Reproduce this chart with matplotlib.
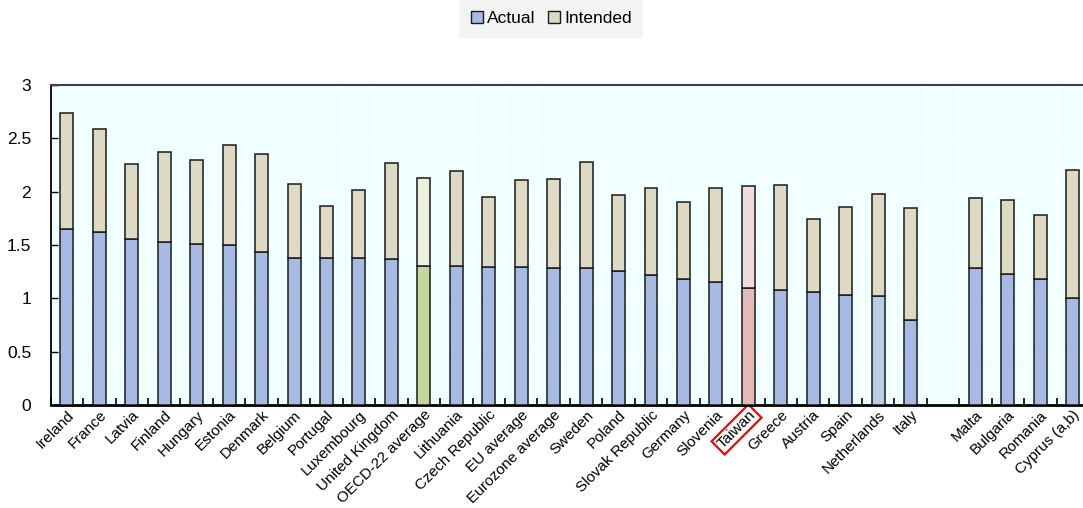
import matplotlib.pyplot as plt
import matplotlib.patches as mpatches
import matplotlib.ticker as mticker
import numpy as np

plt.rcParams['font.family'] = ['Liberation Sans', 'DejaVu Sans']

# data ("" = empty slot between groups)
countries = ["Ireland", "France", "Latvia", "Finland", "Hungary", "Estonia", "Denmark",
             "Belgium", "Portugal", "Luxembourg", "United Kingdom", "OECD-22 average",
             "Lithuania", "Czech Republic", "EU average", "Eurozone average", "Sweden",
             "Poland", "Slovak Republic", "Germany", "Slovenia", "Taiwan", "Greece",
             "Austria", "Spain", "Netherlands", "Italy", "",
             "Malta", "Bulgaria", "Romania", "Cyprus (a,b)"]
actual = [1.65, 1.62, 1.56, 1.53, 1.51, 1.50, 1.43, 1.38, 1.38, 1.38, 1.37, 1.30,
          1.30, 1.29, 1.29, 1.28, 1.28, 1.26, 1.22, 1.18, 1.15, 1.10, 1.08,
          1.06, 1.03, 1.02, 0.80, np.nan,
          1.28, 1.23, 1.18, 1.00]
total = [2.74, 2.59, 2.26, 2.37, 2.30, 2.44, 2.35, 2.07, 1.87, 2.02, 2.27, 2.13,
         2.19, 1.95, 2.11, 2.12, 2.28, 1.97, 2.03, 1.90, 2.03, 2.05, 2.06,
         1.74, 1.86, 1.98, 1.85, np.nan,
         1.94, 1.92, 1.78, 2.20]

actual = np.array(actual)
intended = np.array(total) - actual

col_act = "#A7BAE4"
col_int = "#DDD9C3"
act_colors = []
int_colors = []
for c in countries:
    if c == "OECD-22 average":
        act_colors.append("#C4D79B"); int_colors.append("#EBF1DE")
    elif c == "Taiwan":
        act_colors.append("#E6B8B7"); int_colors.append("#F2DCDB")
    elif c == "Netherlands":
        act_colors.append("#B9CDE5"); int_colors.append(col_int)
    else:
        act_colors.append(col_act); int_colors.append(col_int)

fig = plt.figure(figsize=(10.83, 5.08), dpi=100)
ax = fig.add_axes([0.0468, 0.2028, 0.9588, 0.6299])
ax.set_facecolor("#F0FFFF")

x = np.arange(len(countries))
ax.bar(x, actual, 0.4, color=act_colors, edgecolor="#1a1a1a", linewidth=1.1, zorder=3)
ax.bar(x, intended, 0.4, bottom=actual, color=int_colors, edgecolor="#1a1a1a",
       linewidth=1.1, zorder=3)

ax.set_xlim(-0.5, len(countries) - 0.5)
ax.set_ylim(0, 3)
ax.set_yticks(np.arange(0, 3.01, 0.5))
ax.yaxis.set_major_formatter(mticker.FuncFormatter(lambda v, p: f"{v:g}"))
ax.tick_params(axis="y", direction="in", length=5, width=1, labelsize=12.5, pad=14)

ax.set_xticks(x)
ax.set_xticklabels(countries, rotation=45, ha="right", rotation_mode="anchor", fontsize=11)
ax.set_xticks(np.arange(-0.5, len(countries), 1), minor=True)
ax.tick_params(axis="x", which="major", length=0, pad=2)
ax.tick_params(axis="x", which="minor", direction="in", length=5, width=1.2)
for lab in ax.get_xticklabels():
    if lab.get_text() == "Taiwan":
        lab.set_bbox(dict(boxstyle="square,pad=0.15", fc="none", ec="red", lw=1.6))

ax.grid(True, axis="y", color="white", lw=1.2, zorder=0)
ax.grid(True, axis="x", which="minor", color="white", lw=1.2, zorder=0)
ax.set_axisbelow(True)

ax.spines["bottom"].set_linewidth(2)
ax.spines["left"].set_linewidth(1.3)
ax.spines["top"].set_color("#404040")
ax.spines["top"].set_linewidth(1.5)
ax.spines["right"].set_visible(False)

handles = [mpatches.Patch(facecolor=col_act, edgecolor="#1a1a1a", label="Actual"),
           mpatches.Patch(facecolor=col_int, edgecolor="#1a1a1a", label="Intended")]
leg = fig.legend(handles=handles, loc="upper center", bbox_to_anchor=(0.509, 1.0),
                 ncol=2, fontsize=12.5, frameon=True, fancybox=False,
                 handlelength=0.7, handleheight=0.7, handletextpad=0.25,
                 columnspacing=0.7, borderpad=0.65, borderaxespad=0)
leg.get_frame().set_facecolor("#F2F2F2")
leg.get_frame().set_edgecolor("none")

fig.savefig("out.png", dpi=100)
